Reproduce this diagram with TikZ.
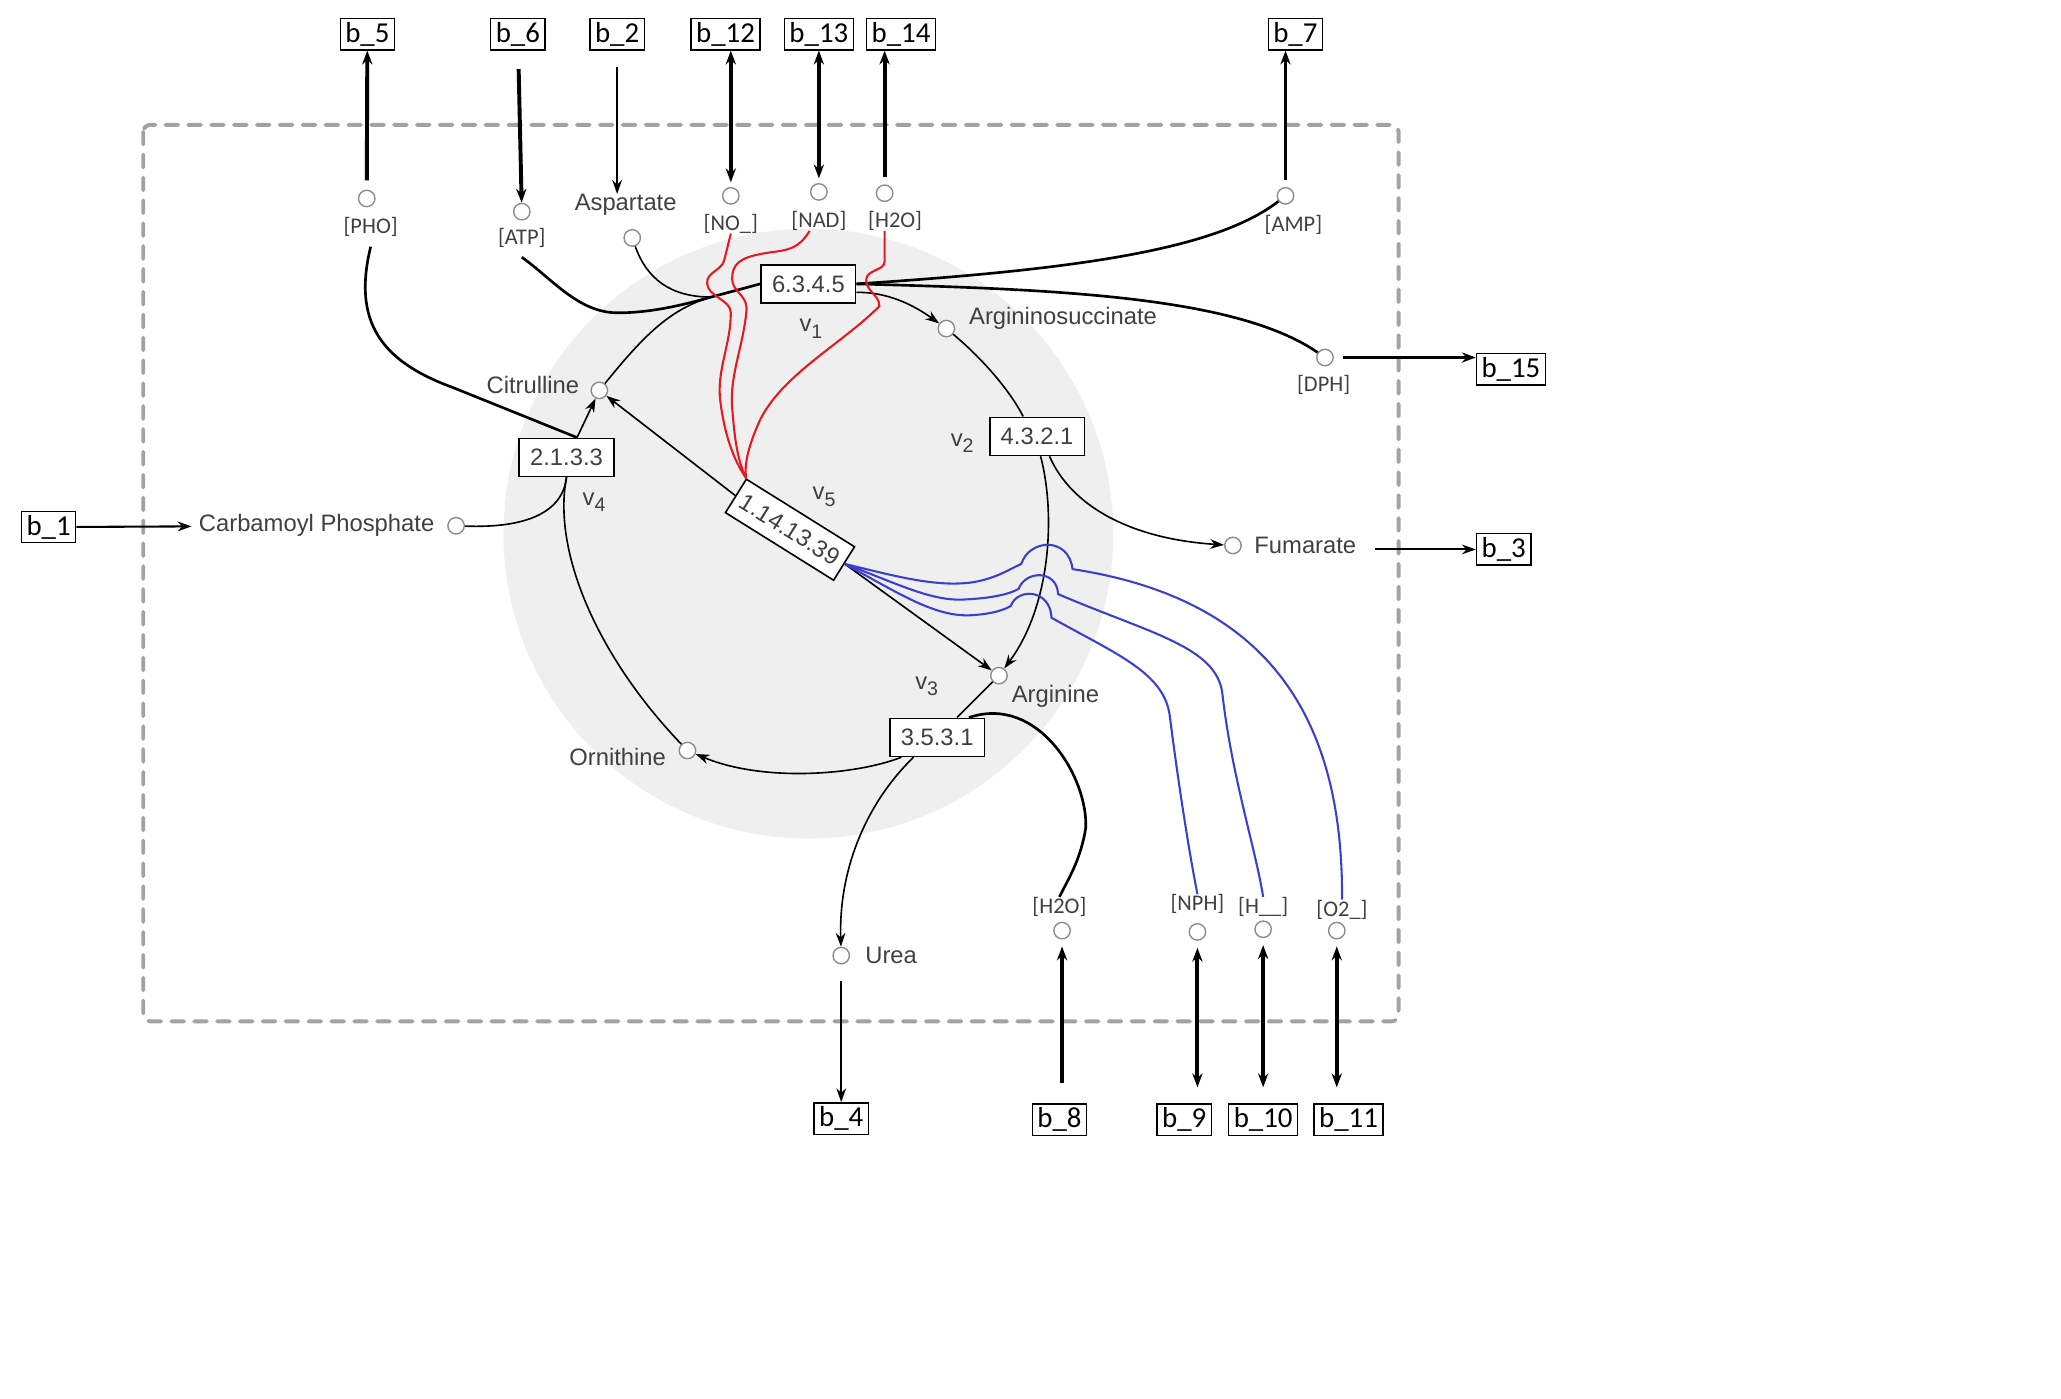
\documentclass[tikz,border=0pt]{standalone}
\usepackage{fontspec}
\setmainfont{Liberation Sans}
\newfontfamily\calfont{Carlito}
\usetikzlibrary{arrows.meta,calc}
\definecolor{boxgray}{HTML}{A2A2A2}
\definecolor{cyclegray}{HTML}{EFEFEF}
\definecolor{labgray}{HTML}{404040}
\definecolor{dotgray}{HTML}{8C8C8C}
\definecolor{cofred}{HTML}{E81820}
\definecolor{cofblue}{HTML}{3A3FD0}
\tikzset{
  bnode/.style={draw=black, line width=0.6pt, inner xsep=2.2pt, inner ysep=0pt,
    minimum height=13.6pt, font=\calfont\fontsize{12.5}{14}\selectfont, text=black},
  met/.style={circle, draw=dotgray, fill=white, line width=0.6pt,
    minimum size=0.25cm, inner sep=0pt},
  metlbl/.style={font=\fontsize{10.3}{12}\selectfont, text=labgray, inner sep=0pt},
  coflbl/.style={font=\calfont\fontsize{9.7}{11}\selectfont, text=labgray, inner sep=0pt},
  enz/.style={draw=black, fill=white, line width=0.7pt, minimum width=1.44cm,
    minimum height=0.58cm, inner sep=0pt, font=\fontsize{10.3}{12}\selectfont, text=labgray},
  vlbl/.style={font=\fontsize{10.3}{12}\selectfont, text=labgray, inner sep=0pt},
  rxn/.style={-{Stealth[length=6pt,width=4.2pt]}, line width=0.7pt},
  link/.style={line width=0.7pt},
  heavy/.style={line width=1.15pt},
  exch/.style={-{Stealth[length=6pt,width=4.4pt]}, line width=1.7pt},
  biexch/.style={{Stealth[length=6pt,width=4.4pt]}-{Stealth[length=6pt,width=4.4pt]}, line width=1.7pt},
  cofr/.style={cofred, line width=0.9pt},
  cofb/.style={cofblue, line width=0.9pt},
}

\begin{document}
\begin{tikzpicture}[x=0.02cm,y=-0.02cm]
  \useasboundingbox (0,0) rectangle (1568,1064);
  % cycle background and compartment
  \fill[cyclegray] (615,406) circle[radius=4.64cm];
  \draw[boxgray, line width=1.7pt, dash pattern=on 5.5pt off 4.4pt, line cap=round,
    rounded corners=3pt] (109,95) rectangle (1064,777);
  % boundary fluxes
  \foreach \n/\x/\y in {5/279.5/26, 6/394/26, 2/469.5/26, 12/552/26, 13/623/26, 14/685.5/26,
      7/985.5/26, 15/1149.5/281, 1/37/401, 3/1144/418, 4/640/851, 8/806/852,
      9/901/852, 10/961/852, 11/1026/852}
    \node[bnode] (b\n) at (\x,\y) {b\_\n};
  % metabolites
  \foreach \m/\x/\y in {pho/279/151, atp/397/161, asp/481/181, no/556/149, nad/623/146,
      wtop/673/147, amp/978/149, dph/1008/272, asuc/720/250, cit/456/297, carb/347/400,
      fum/938/415, arg/760/514, orn/523/571, urea/640/727, wbot/808/708, nph/911/709,
      hh/961/707, otwo/1017/708}
    \node[met] (\m) at (\x,\y) {};
  \node[coflbl] (pholbl) at (282,173) {[PHO]};
  \node[coflbl] (atplbl) at (397,181) {[ATP]};
  \node[metlbl] (asplbl) at (476,156) {Aspartate};
  \node[coflbl] (nolbl) at (556,170) {[NO\_]};
  \node[coflbl] (nadlbl) at (623,168) {[NAD]};
  \node[coflbl] (wtoplbl) at (681,168) {[H2O]};
  \node[coflbl] (amplbl) at (984,171) {[AMP]};
  \node[coflbl] (dphlbl) at (1007,293) {[DPH]};
  \node[metlbl, anchor=west] (asuclbl) at (737,242) {Argininosuccinate};
  \node[metlbl, anchor=east] (citlbl) at (441,293) {Citrulline};
  \node[metlbl, anchor=west] (carblbl) at (151,400) {Carbamoyl Phosphate};
  \node[metlbl, anchor=west] (fumlbl) at (954,415) {Fumarate};
  \node[metlbl] (arglbl) at (803,530) {Arginine};
  \node[metlbl, anchor=east] (ornlbl) at (507,576) {Ornithine};
  \node[metlbl, anchor=west] (urealbl) at (658,727) {Urea};
  \node[coflbl] (wbotlbl) at (806,690) {[H2O]};
  \node[coflbl] (nphlbl) at (911,688) {[NPH]};
  \node[coflbl] (hhlbl) at (961,690) {[H\_\_]};
  \node[coflbl] (otwolbl) at (1021,692) {[O2\_]};
  % enzymes
  \node[enz] (e6345) at (615,216) {6.3.4.5};
  \node[enz] (e4321) at (789,332) {4.3.2.1};
  \node[enz] (e2133) at (431,348) {2.1.3.3};
  \node[enz] (e3531) at (713,561) {3.5.3.1};
  \node[enz, rotate=-32, minimum width=1.94cm, minimum height=0.6cm] (e1141339) at (601,403) {1.14.13.39};
  \foreach \k/\x/\y in {1/617/250, 2/732/337, 3/705/522, 4/452/382, 5/627/378}
    \node[vlbl] (v\k) at (\x,\y) {v\raisebox{-0.5ex}{\fontsize{8.5}{9}\selectfont\k}};
  \coordinate (jn) at (541,226);

  % exchange arrows
  \draw[exch, shorten <=4pt] (pho) -- (b5);
  \draw[exch, shorten <=8pt] (b6) -- (atp);
  \draw[rxn, shorten <=7pt] (b2.south) -- (b2.south |- asplbl.north);
  \foreach \m/\b in {no/b12, nad/b13}
    \draw[biexch, shorten >=2pt] (\m |- \b.south) -- (\m);
  \foreach \m/\b in {wtop/b14, amp/b7}
    \draw[exch, shorten <=3pt] (\m) -- (\m |- \b.south);
  \draw[exch, shorten <=4pt] (dph.east) -- (dph.east -| b15.west);
  \draw[rxn, line width=0.9pt, shorten >=3pt] (b1) -- (carblbl);
  \draw[rxn, line width=0.9pt, shorten <=8pt] (fumlbl.east |- b3) -- (b3.west);
  \draw[rxn, shorten <=7pt] (urea) -- (b4);
  \draw[exch, shorten <=9pt, shorten >=3pt] (wbot |- b8.north) -- (wbot);
  \foreach \m/\b in {nph/b9, hh/b10, otwo/b11}
    \draw[biexch, shorten <=3pt, shorten >=7pt] (\m) -- (\m |- \b.north);

  % urea cycle
  \draw[rxn] (e6345.350) .. controls (675,222) and (695,232) .. (asuc);
  \draw[link] (asuc) .. controls (750,275) and (770,300) .. (e4321.125);
  \draw[rxn] (e4321.280) .. controls (803,390) and (800,460) .. (arg);
  \draw[rxn] (e4321.302) .. controls (815,385) and (860,410) .. (fum);
  \draw[link] (arg) -- (e3531);
  \draw[rxn] (e3531.209) .. controls (650,590) and (580,595) .. (orn);
  \draw[rxn] (e3531.220) .. controls (660,610) and (638,660) .. (urea);
  \draw[link] (orn) .. controls (455,500) and (420,420) .. (e2133.south);
  \draw[link] (carb) .. controls (400,402) and (428,390) .. (e2133.south);
  \draw[rxn] ($(e2133.north)+(8,0)$) -- (cit);
  \draw[link] (cit) .. controls (490,255) and (510,235) .. (jn);
  \draw[link] (asp) .. controls (492,212) and (510,226) .. (jn);
  \draw[heavy] ([yshift=-4pt]pholbl.south) .. controls (268,245) and (290,275) .. (345,295)
    -- ($(e2133.north)+(8,0)$);
  \draw[heavy] ([yshift=-4pt]atplbl.south) .. controls (420,212) and (440,238) .. (470,238)
    .. controls (495,238) and (520,232) .. (jn) -- (e6345.west);
  \draw[heavy] (e6345.east) .. controls (820,205) and (925,190) .. (amp);
  \draw[heavy] (e6345.east) .. controls (800,220) and (940,225) .. (dph);
  \draw[heavy] (e3531.32) .. controls (790,528) and (828,592) .. (826,630)
    .. controls (822,655) and (812,670) .. (wbotlbl.north);
  \draw[rxn] (e1141339.west) -- (cit);
  \draw[rxn] (e1141339.east) -- (arg);

  % cofactors of 1.14.13.39
  \draw[cofr] (nolbl.south -| no) -- (551,198) .. controls (549,206) and (537,207) .. (538,216)
    .. controls (539,226) and (556,228) .. (556,238) .. controls (556,262) and (545,282) .. (548,305)
    .. controls (551,330) and (558,350) .. (e1141339.north west);
  \draw[cofr] ([xshift=-4pt]nadlbl.south) .. controls (606,192) and (596,190) .. (580,193)
    .. controls (563,196) and (557,201) .. (557,212) .. controls (557,222) and (568,224) .. (568,235)
    .. controls (566,262) and (555,285) .. (557,310) .. controls (559,335) and (561,350) .. (e1141339.north west);
  \draw[cofr] (wtoplbl.south -| wtop) -- (673,199) .. controls (673,206) and (659,205) .. (659,213)
    .. controls (659,222) and (669,224) .. (669,233) .. controls (640,262) and (595,285) .. (578,320)
    .. controls (570,338) and (566,352) .. (e1141339.north west);
  \draw[cofb] (e1141339.east) .. controls (680,438) and (712,447) .. (740,443)
    .. controls (758,440) and (768,433) .. (777,429) .. controls (783,410) and (813,408) .. (816,433)
    .. controls (960,455) and (1022,540) .. (otwolbl.north);
  \draw[cofb] (e1141339.east) .. controls (685,445) and (710,458) .. (735,456)
    .. controls (755,455) and (768,452) .. (775,448) .. controls (780,434) and (804,433) .. (805,452)
    .. controls (875,482) and (926,492) .. (930,528) .. controls (937,590) and (955,645) .. (hhlbl.north);
  \draw[cofb] (e1141339.east) .. controls (685,452) and (712,470) .. (740,468)
    .. controls (755,467) and (764,464) .. (769,461) .. controls (774,447) and (799,448) .. (800,470)
    .. controls (850,498) and (886,512) .. (890,545) .. controls (897,600) and (905,650) .. (nphlbl.north);
\end{tikzpicture}
\end{document}
